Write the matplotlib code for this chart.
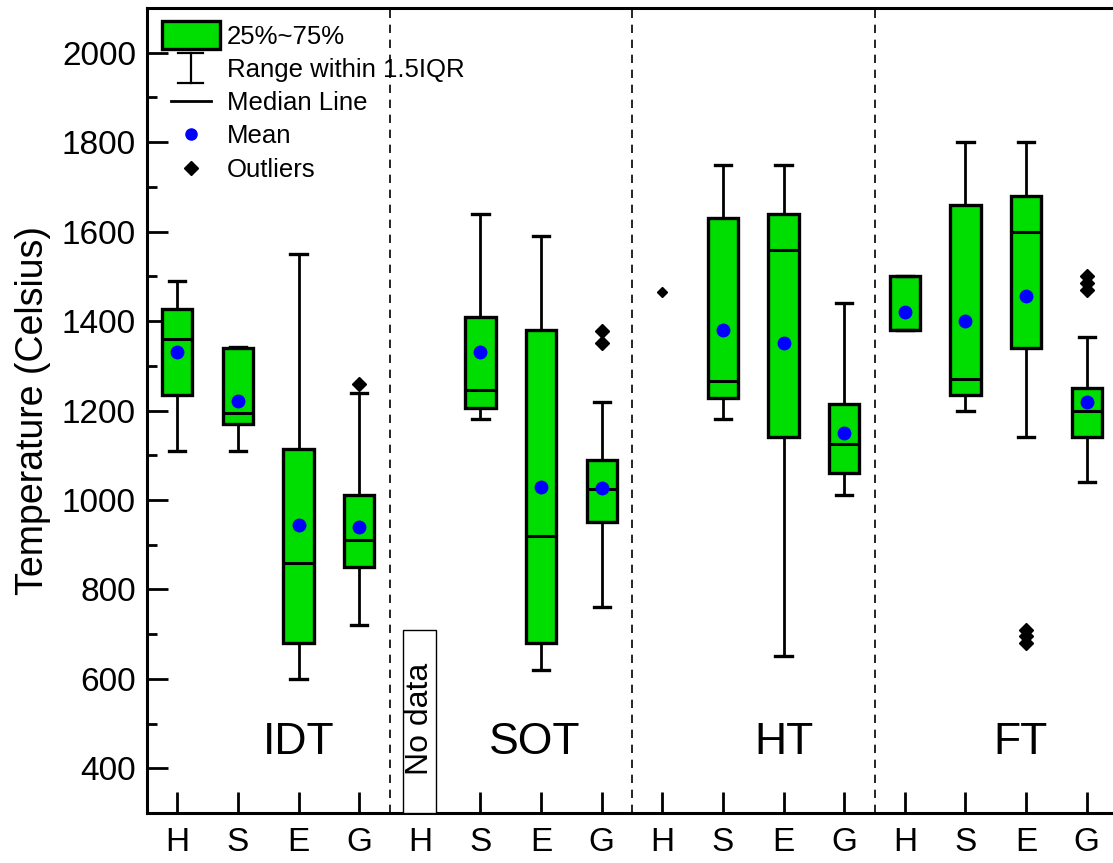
import numpy as np
import matplotlib
matplotlib.use("Agg")
import matplotlib.pyplot as plt
from matplotlib.lines import Line2D
from matplotlib.patches import Patch, Rectangle, FancyBboxPatch
from matplotlib.legend_handler import HandlerPatch, HandlerBase
from matplotlib.ticker import MultipleLocator

plt.rcParams["font.family"] = ["Liberation Sans", "DejaVu Sans"]

# ---- data ----
groups = ["IDT", "SOT", "HT", "FT"]
group_x = [3.0, 6.9, 11.0, 14.9]
samples = ["H", "S", "E", "G"]

# one entry per box, order: IDT(H,S,E,G), SOT(S,E,G), HT(S,E,G), FT(H,S,E,G)
box_pos = [1, 2, 3, 4, 6, 7, 8, 10, 11, 12, 13, 14, 15, 16]
q1 = [1235, 1170, 680, 850, 1205, 680, 950, 1228, 1140, 1060, 1380, 1235, 1340, 1140]
med = [1360, 1195, 860, 910, 1245, 920, 1025, 1265, 1560, 1125, 1380, 1270, 1600, 1200]
q3 = [1428, 1340, 1115, 1010, 1410, 1380, 1090, 1630, 1640, 1215, 1500, 1660, 1680, 1250]
whis_lo = [1110, 1110, 600, 720, 1180, 620, 760, 1180, 650, 1010, 1380, 1200, 1140, 1040]
whis_hi = [1490, 1342, 1550, 1240, 1640, 1590, 1220, 1750, 1750, 1440, 1500, 1800, 1800, 1365]
means = [1330, 1222, 945, 939, 1331, 1030, 1026, 1381, 1352, 1150, 1420, 1401, 1455, 1218]
outliers = [[], [], [], [1260], [], [], [1350, 1377], [], [], [], [], [], [680, 695, 710], [1470, 1485, 1500]]

# HT / H has a single point only
single_pos = 9
single_val = 1465

nodata_pos = 5
nodata_top = 710

green = "#00dd00"

fig = plt.figure(figsize=(11.13, 8.63), dpi=100)
ax = fig.add_axes([147 / 1113, 50 / 863, (1113 - 147) / 1113 + 0.002, 805 / 863])

stats = []
for i in range(len(box_pos)):
    stats.append({"med": med[i], "q1": q1[i], "q3": q3[i], "whislo": whis_lo[i],
                  "whishi": whis_hi[i], "mean": means[i], "fliers": outliers[i]})

ax.bxp(stats, positions=box_pos, widths=0.5, capwidths=0.27, patch_artist=True,
       showmeans=True, showfliers=True,
       boxprops=dict(facecolor=green, edgecolor="black", linewidth=2.4),
       medianprops=dict(color="black", linewidth=2.2),
       whiskerprops=dict(color="black", linewidth=2.0),
       capprops=dict(color="black", linewidth=2.4),
       meanprops=dict(marker="o", markerfacecolor="#0000ff", markeredgecolor="#0000ff", markersize=9),
       flierprops=dict(marker="D", markerfacecolor="black", markeredgecolor="black", markersize=7))

ax.plot([single_pos], [single_val], marker="D", color="black", markersize=5, linestyle="none")

# dashed group separators
for g in range(1, len(groups)):
    ax.axvline(g * 4 + 0.5, color="black", linestyle=(0, (5, 4)), linewidth=1.2)

# group names
for name, cx in zip(groups, group_x):
    ax.text(cx, 458, name, fontsize=32, ha="center", va="center")

# "No data" placeholder
ax.add_patch(Rectangle((nodata_pos - 0.27, 300), 0.54, nodata_top - 300,
                       facecolor="white", edgecolor="black", linewidth=1.0, zorder=3))
ax.text(nodata_pos, 385, "No data", rotation=90, fontsize=23, ha="center", va="bottom", zorder=4)

ax.set_xlim(0.5, 16.47)
ax.set_ylim(300, 2100)
ax.set_xticks(range(1, 17))
ax.set_xticklabels(samples * 4)
ax.yaxis.set_major_locator(MultipleLocator(200))
ax.yaxis.set_minor_locator(MultipleLocator(100))
ax.tick_params(axis="both", which="major", direction="in", length=15, width=2.0, labelsize=24)
ax.tick_params(axis="x", pad=10)
ax.tick_params(axis="y", pad=8)
ax.tick_params(axis="y", which="minor", direction="in", length=7, width=2.0)
ax.set_ylabel("Temperature (Celsius)", fontsize=27, labelpad=8)
for s in ["left", "bottom", "top"]:
    ax.spines[s].set_linewidth(2.2)
ax.spines["right"].set_visible(False)


# legend
class HandlerRange(HandlerBase):
    def create_artists(self, legend, orig_handle, xdescent, ydescent, width, height, fontsize, trans):
        cx = width / 2 - xdescent
        y0 = -ydescent - 0.35 * height
        y1 = height - ydescent + 0.35 * height
        cw = 9
        arts = [Line2D([cx, cx], [y0, y1]),
                Line2D([cx - cw, cx + cw], [y0, y0]),
                Line2D([cx - cw, cx + cw], [y1, y1])]
        for a in arts:
            a.set_color("black")
            a.set_linewidth(1.6)
            a.set_transform(trans)
        return arts


def make_box(legend, orig_handle, xdescent, ydescent, width, height, fontsize):
    return FancyBboxPatch((-xdescent - 0.22 * width, -ydescent - 0.28 * height), 1.44 * width, 1.56 * height,
                          boxstyle="square,pad=0")


box_h = Patch(facecolor=green, edgecolor="black", linewidth=2.4)
range_h = object()
med_h = Line2D([], [], color="black", linewidth=2.0)
mean_h = Line2D([], [], marker="o", color="#0000ff", linestyle="none", markersize=8)
out_h = Line2D([], [], marker="D", color="black", linestyle="none", markersize=7)

leg = ax.legend([box_h, range_h, med_h, mean_h, out_h],
                ["25%~75%", "Range within 1.5IQR", "Median Line", "Mean", "Outliers"],
                loc="upper left", bbox_to_anchor=(0.0075, 1.0), frameon=False, fontsize=18.5,
                handlelength=1.55, handleheight=0.7, labelspacing=0.36, handletextpad=0.62,
                borderaxespad=0.2, borderpad=0.45,
                handler_map={Patch: HandlerPatch(patch_func=make_box), object: HandlerRange()})

fig.savefig("out.png", dpi=100)
